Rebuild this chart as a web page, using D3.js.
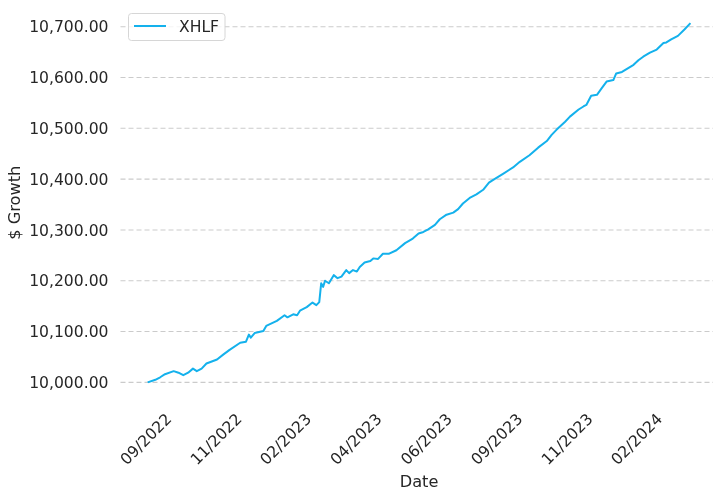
<!DOCTYPE html>
<html>
  <head>
    <meta charset="utf-8" />
    <title>XHLF $ Growth</title>
    <script src="https://d3js.org/d3.v7.min.js"></script>
    <style>
      body { margin: 0; background: #fff; }
      #chart { position: fixed; left: 0; top: 0; width: 713px; height: 489px; }
      text { font-family: "DejaVu Sans", sans-serif; fill: #262626; }
    </style>
  </head>
  <body>
    <div id="chart"></div>

    <script>
      // Series (growth of $10,000)
      const seriesName = "XHLF";
      const dates = [
        "2022-09-13","2022-09-21","2022-09-26","2022-10-01","2022-10-10","2022-10-15",
        "2022-10-20","2022-10-25","2022-10-30","2022-11-03","2022-11-08","2022-11-13",
        "2022-11-24","2022-11-30","2022-12-07","2022-12-18","2022-12-24","2022-12-27",
        "2022-12-29","2023-01-02","2023-01-11","2023-01-14","2023-01-25","2023-02-02",
        "2023-02-05","2023-02-11","2023-02-15","2023-02-18","2023-02-25","2023-03-03",
        "2023-03-07","2023-03-10","2023-03-12","2023-03-14","2023-03-16","2023-03-20",
        "2023-03-25","2023-03-29","2023-04-02","2023-04-07","2023-04-10","2023-04-14",
        "2023-04-18","2023-04-21","2023-04-26","2023-05-02","2023-05-05","2023-05-10",
        "2023-05-15","2023-05-21","2023-05-29","2023-06-07","2023-06-15","2023-06-21",
        "2023-06-26","2023-07-01","2023-07-08","2023-07-13","2023-07-20","2023-07-27",
        "2023-08-01","2023-08-06","2023-08-13","2023-08-20","2023-08-27","2023-09-02",
        "2023-09-06","2023-09-17","2023-09-27","2023-10-04","2023-10-14","2023-10-23",
        "2023-11-01","2023-11-06","2023-11-11","2023-11-20","2023-11-25","2023-12-04",
        "2023-12-09","2023-12-12","2023-12-17","2023-12-23","2023-12-28","2024-01-02",
        "2024-01-09","2024-01-12","2024-01-18","2024-01-24","2024-01-30","2024-02-04",
        "2024-02-09","2024-02-16","2024-02-23","2024-03-01","2024-03-04","2024-03-09",
        "2024-03-16","2024-03-23","2024-03-29"
      ];
      const values = [
        10000, 10005, 10010, 10016, 10022, 10019,
        10014, 10019, 10027, 10022, 10027, 10037,
        10045, 10054, 10064, 10078, 10080, 10094,
        10088, 10097, 10101, 10111, 10121, 10132,
        10128, 10134, 10132, 10141, 10148, 10157,
        10152, 10158, 10195, 10188, 10200, 10195,
        10211, 10205, 10208, 10221, 10215, 10221,
        10218, 10227, 10236, 10239, 10244, 10243,
        10253, 10253, 10260, 10274, 10283, 10293,
        10296, 10301, 10310, 10321, 10330, 10334,
        10341, 10352, 10363, 10370, 10379, 10393,
        10398, 10411, 10423, 10434, 10447, 10462,
        10475, 10487, 10497, 10513, 10523, 10537,
        10543, 10546, 10564, 10566, 10579, 10592,
        10595, 10608, 10611, 10618, 10625, 10634,
        10641, 10649, 10655, 10668, 10669, 10675,
        10682, 10695, 10707
      ];
      const xTickDates = [
        "2022-09-11","2022-11-23","2023-02-03","2023-04-17",
        "2023-06-29","2023-09-10","2023-11-22","2024-02-02"
      ];
      const yTicks = [10000, 10100, 10200, 10300, 10400, 10500, 10600, 10700];

      const width = 713, height = 489;
      const margin = { top: 5.2, right: -4.6, bottom: 88.7, left: 120.5 };
      const parse = d3.utcParse("%Y-%m-%d");
      const data = dates.map((d, i) => ({ date: parse(d), value: values[i] }));

      const svg = d3.select("#chart").append("svg")
        .attr("width", width).attr("height", height);

      // 5% padding on both axes like matplotlib margins
      const xExt = d3.extent(data, d => +d.date);
      const xPad = (xExt[1] - xExt[0]) * 0.05;
      const x = d3.scaleUtc()
        .domain([new Date(xExt[0] - xPad), new Date(xExt[1] + xPad)])
        .range([margin.left, width - margin.right]);

      const yExt = d3.extent(values);
      const yPad = (yExt[1] - yExt[0]) * 0.05;
      const y = d3.scaleLinear()
        .domain([yExt[0] - yPad, yExt[1] + yPad])
        .range([height - margin.bottom, margin.top]);

      const fmtY = d3.format(",.2f");
      const fmtX = d3.utcFormat("%m/%Y");

      // horizontal dashed grid
      svg.append("g").selectAll("line").data(yTicks).join("line")
        .attr("x1", margin.left).attr("x2", width - margin.right)
        .attr("y1", d => y(d)).attr("y2", d => y(d))
        .attr("stroke", "#cbcbcb").attr("stroke-width", 1.1)
        .attr("stroke-dasharray", "5,3");

      // y tick labels
      svg.append("g").selectAll("text").data(yTicks).join("text")
        .attr("x", 108.5).attr("y", d => y(d))
        .attr("dy", "0.36em")
        .attr("text-anchor", "end")
        .style("font-size", "15.6px")
        .text(d => fmtY(d));

      // x tick labels, rotated 45 and centred on tick
      const cy = 439;
      svg.append("g").selectAll("text").data(xTickDates.map(parse)).join("text")
        .attr("x", d => x(d)).attr("y", cy)
        .attr("dy", "0.35em")
        .attr("text-anchor", "middle")
        .attr("transform", d => `rotate(-45,${x(d)},${cy})`)
        .style("font-size", "15.6px")
        .text(d => fmtX(d));

      // axis titles
      svg.append("text")
        .attr("x", (margin.left + width - margin.right) / 2).attr("y", 486.5)
        .attr("text-anchor", "middle")
        .style("font-size", "16.2px")
        .text("Date");
      svg.append("text")
        .attr("transform", `translate(19.5,${(margin.top + height - margin.bottom) / 2}) rotate(-90)`)
        .attr("text-anchor", "middle")
        .style("font-size", "16.2px")
        .text("$ Growth");

      // the series line
      const line = d3.line().x(d => x(d.date)).y(d => y(d.value));
      svg.append("path").datum(data)
        .attr("fill", "none")
        .attr("stroke", "#14b1ec")
        .attr("stroke-width", 2)
        .attr("stroke-linejoin", "round")
        .attr("d", line);

      // legend
      const lg = svg.append("g").attr("transform", "translate(128.5,13.5)");
      lg.append("rect")
        .attr("width", 96.5).attr("height", 27).attr("rx", 3)
        .attr("fill", "#fff").attr("fill-opacity", 0.8)
        .attr("stroke", "#d6d6d6");
      lg.append("line")
        .attr("x1", 5.5).attr("x2", 37.5).attr("y1", 12.5).attr("y2", 12.5)
        .attr("stroke", "#14b1ec").attr("stroke-width", 2);
      lg.append("text")
        .attr("x", 50.5).attr("y", 12.5).attr("dy", "0.36em")
        .style("font-size", "15.6px")
        .text(seriesName);
    </script>
  </body>
</html>
